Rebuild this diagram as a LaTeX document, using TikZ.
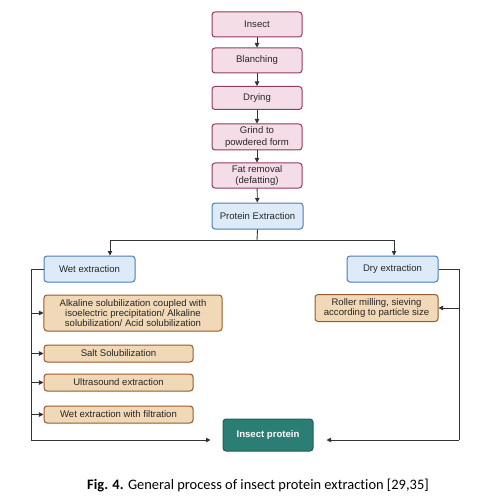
\documentclass[tikz,border=0pt]{standalone}
\usepackage{fontspec}
\setmainfont{Liberation Sans}
\newfontfamily\capfont[Ligatures=NoCommon]{Carlito}
\usetikzlibrary{arrows.meta}
\definecolor{pinkfill}{HTML}{F5DDE7}
\definecolor{pinkline}{HTML}{8E3D60}
\definecolor{bluefill}{HTML}{DDEBF8}
\definecolor{blueline}{HTML}{4C7DB5}
\definecolor{orfill}{HTML}{F1D8B7}
\definecolor{orline}{HTML}{9A5A2C}
\definecolor{tealfill}{HTML}{2B7E73}
\definecolor{tealline}{HTML}{1F5F56}
\definecolor{wire}{HTML}{333333}
\tikzset{
  box/.style={rounded corners=3bp, line width=1bp, align=center, inner sep=1bp,
    font=\fontsize{9.6}{10.2}\selectfont, text=black!85},
  pinkbox/.style={box, draw=pinkline, fill=pinkfill, minimum width=90bp, minimum height=25bp, font=\fontsize{9.6}{11.8}\selectfont},
  bluebox/.style={box, draw=blueline, fill=bluefill, minimum width=91bp, minimum height=26bp},
  orbox/.style={box, draw=orline, fill=orfill},
  tealbox/.style={box, draw=tealline, fill=tealfill, text=white, font=\bfseries\fontsize{9.6}{10}\selectfont, minimum width=90bp, minimum height=32bp},
  wireline/.style={draw=wire, line width=0.9bp},
  arr/.style={wireline, -{Triangle[length=4.5bp,width=4.5bp]}},
}
\begin{document}
\begin{tikzpicture}[x=1bp,y=-1bp]
\useasboundingbox (0,0) rectangle (482,500);
\node[pinkbox] (ins) at (257,24.5) {Insect};
\node[pinkbox] (bla) at (257,60.5) {Blanching};
\node[pinkbox, minimum height=23bp] (dry) at (257,98) {Drying};
\node[pinkbox, minimum height=26bp] (gri) at (257,137) {Grind to\\powdered form};
\node[pinkbox] (fat) at (257,175.5) {Fat removal\\(defatting)};
\node[bluebox] (pe) at (257.5,216) {Protein Extraction};
\node[bluebox] (wet) at (89.5,269) {Wet extraction};
\node[bluebox] (dx) at (392.5,269) {Dry extraction};
\node[orbox, minimum width=178bp, minimum height=36bp] (alk) at (133,313) {Alkaline solubilization coupled with\\isoelectric precipitation/ Alkaline\\solubilization/ Acid solubilization};
\node[orbox, minimum width=149bp, minimum height=17bp] (salt) at (118.5,353.5) {Salt Solubilization};
\node[orbox, minimum width=149bp, minimum height=17bp] (ult) at (118.5,382.5) {Ultrasound extraction};
\node[orbox, minimum width=149bp, minimum height=17bp] (wf) at (118.5,414.5) {Wet extraction with filtration};
\node[orbox, minimum width=123bp, minimum height=27bp] (rol) at (376.5,308) {Roller milling, sieving\\according to particle size};
\node[tealbox] (ip) at (268,435) {Insect protein};

\draw[arr] (ins) -- (bla);
\draw[arr] (bla) -- (dry);
\draw[arr] (dry) -- (gri);
\draw[arr] (gri) -- (fat);
\draw[arr] (fat) -- (pe);

\coordinate (jn) at (257,240);
\coordinate (jl) at (110,240);
\coordinate (jr) at (394,240);
\draw[wireline] (pe.south) -- (jn);
\draw[wireline] (jl) -- (jr);
\draw[arr] (jl) -- (jl |- wet.north);
\draw[arr] (jr) -- (jr |- dx.north);

\coordinate (lt) at (31,269);
\coordinate (lb) at (31,440);
\draw[wireline] (wet.west) -- (lt) -- (lb);
\draw[arr, shorten >=12bp] (lb) -- (ip.west |- lb);
\draw[arr] (lt |- alk.west) -- (alk.west);
\draw[arr] (lt |- salt.west) -- (salt.west);
\draw[arr] (lt |- ult.west) -- (ult.west);
\draw[arr] (lt |- wf.west) -- (wf.west);

\coordinate (rt) at (459,269);
\coordinate (rb) at (459,440);
\draw[wireline] (dx.east) -- (rt) -- (rb);
\draw[arr, shorten >=13bp] (rb) -- (ip.east |- rb);
\draw[arr] (rt |- rol.east) -- (rol.east);

\node[font=\capfont\fontsize{14.5}{16}\selectfont, inner sep=0pt] (cap) at (258,485) {\textbf{Fig. 4.} General process of insect protein extraction [29,35]};
\end{tikzpicture}
\end{document}
